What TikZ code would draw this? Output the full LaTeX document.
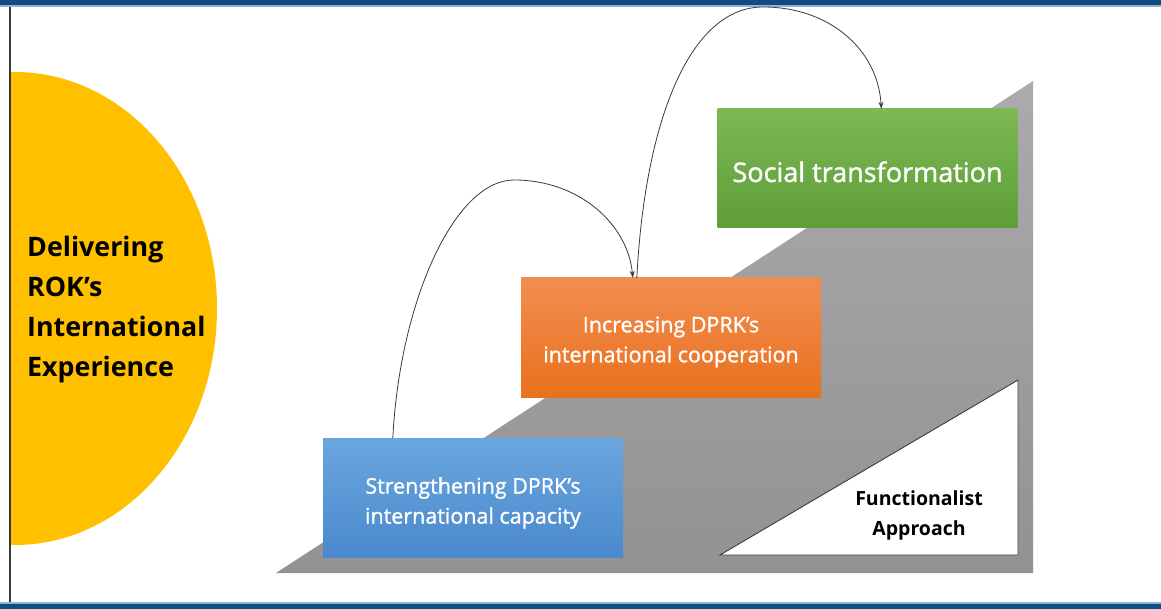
\documentclass[tikz,border=0pt]{standalone}
\usepackage{fontspec}
\setmainfont{Open Sans}
\newfontfamily\boxfont[FakeBold=1.3]{Open Sans}
\usetikzlibrary{arrows.meta}
\definecolor{barblue}{HTML}{0F4C81}
\definecolor{barlight}{HTML}{8DB3D6}
\definecolor{yel}{HTML}{FFC000}
\definecolor{bluetop}{HTML}{6AA6DE}
\definecolor{bluebot}{HTML}{4A89CD}
\definecolor{orgtop}{HTML}{F28D50}
\definecolor{orgbot}{HTML}{E9711D}
\definecolor{grntop}{HTML}{7DB855}
\definecolor{grnbot}{HTML}{5E9E38}
\definecolor{graytop}{HTML}{ABABAF}
\definecolor{graybot}{HTML}{929292}
\definecolor{linegray}{HTML}{3A3A3A}
\begin{document}
\begin{tikzpicture}[x=1pt,y=-1pt,
  stepbox/.style={rectangle, draw=none, minimum width=300pt, minimum height=119pt, inner sep=0pt},
  boxtext/.style={text=white, align=center, inner sep=0pt, font=\boxfont\fontsize{21.5}{30}\selectfont},
  conn/.style={draw=linegray, line width=0.8pt, -{Stealth[length=7pt,width=5pt]}}]
\useasboundingbox (0,0) rectangle (1161,609);
\fill[white] (0,0) rectangle (1161,609);
% bars
\fill[barblue] (0,0) rectangle (1161,5);
\fill[barlight] (0,5) rectangle (1161,7);
\fill[barlight] (0,602) rectangle (1161,604);
\fill[barblue] (0,604) rectangle (1161,609);
% yellow half disc
\begin{scope}
  \clip (10,0) rectangle (400,609);
  \fill[yel] (15,308.5) ellipse [x radius=202, y radius=236.5];
\end{scope}
\draw[linegray, line width=1.5pt] (10,7) -- (10,602);
\node[anchor=west, align=left, inner sep=0pt, font=\fontsize{26.8}{40}\selectfont\bfseries] (rok) at (27,310)
  {Delivering\\ROK’s\\International\\Experience};
% gray staircase backdrop
\shade[top color=graytop, bottom color=graybot] (276,573) -- (1033,81) -- (1033,573) -- cycle;
% triangle
\draw[fill=white, draw=linegray, line width=0.9pt] (720,555) -- (1018,380) -- (1018,555) -- cycle;
\node[align=center, inner sep=0pt, font=\fontsize{19.5}{30}\selectfont\bfseries] (func) at (919,515)
  {Functionalist\\Approach};
% boxes
\node[stepbox, top color=bluetop, bottom color=bluebot] (blue) at (473,497.5) {};
\node[stepbox, top color=orgtop, bottom color=orgbot] (orange) at (671,337.5) {};
\node[stepbox, top color=grntop, bottom color=grnbot] (green) at (867.5,168.5) {};
\node[boxtext] (bluetxt) at (473,503) {Strengthening DPRK’s\\international capacity};
\node[boxtext] (orangetxt) at (671,342) {Increasing DPRK’s\\international cooperation};
\node[boxtext, anchor=base, font=\boxfont\fontsize{27}{32}\selectfont] (greentxt) at (867.5,182) {Social transformation};
% connectors
\draw[conn] ([xshift=70pt]blue.north west) .. controls (400,300) and (455,180) .. (514,180)
  .. controls (580,180) and (628,225) .. ([xshift=112pt]orange.north west);
\draw[conn] ([xshift=116pt]orange.north west) .. controls (645,120) and (690,7) .. (763,7)
  .. controls (830,7) and (878,50) .. ([xshift=164pt]green.north west);
\end{tikzpicture}
\end{document}
